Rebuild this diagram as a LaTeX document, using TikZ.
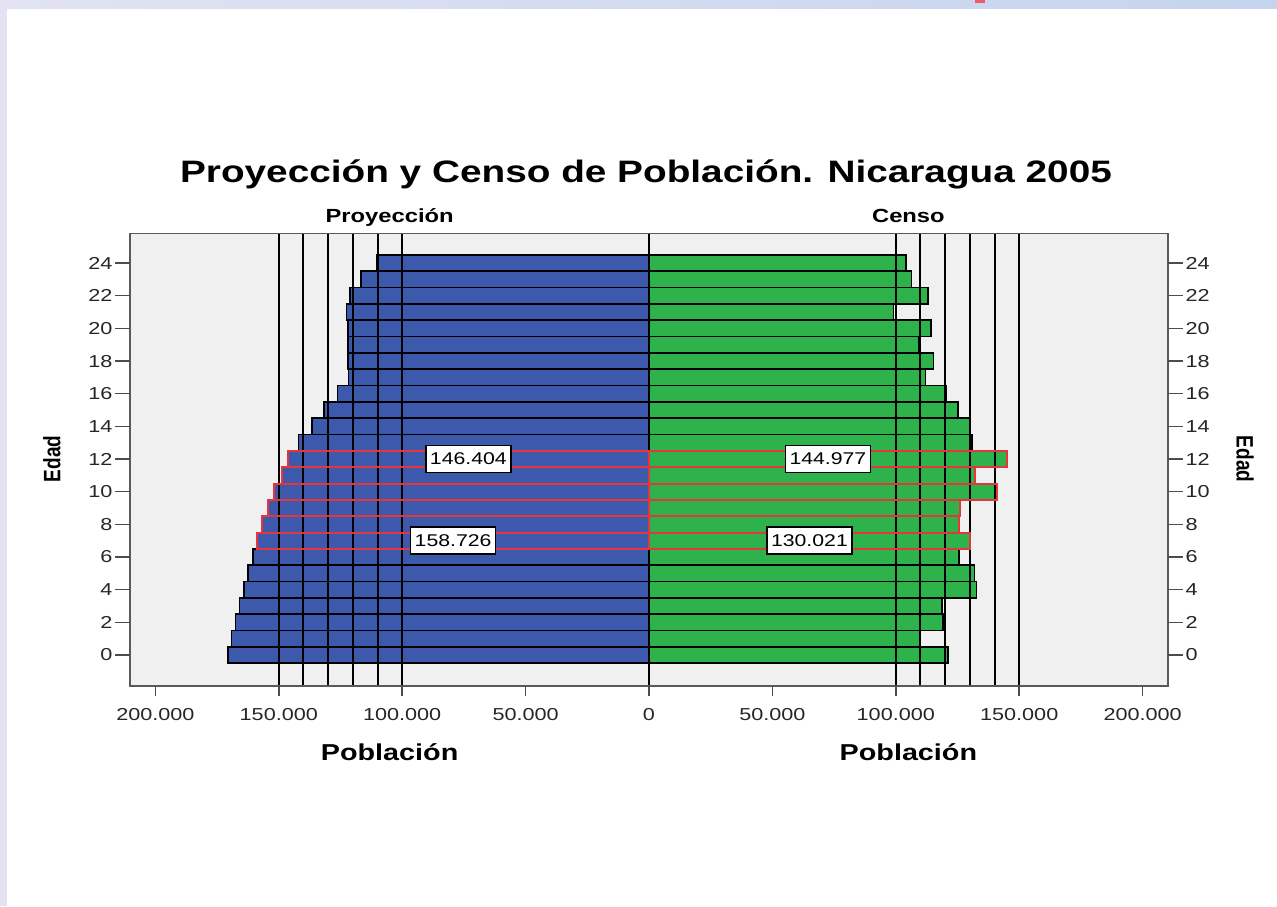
\documentclass[tikz,border=0pt]{standalone}
\usepackage{graphicx}
\usepackage{fontspec}
\setmainfont[FakeStretch=1.25]{Liberation Sans}
\newfontfamily\edadfont[FakeStretch=0.8]{Liberation Sans}
\usepackage{tikz}
\definecolor{proyblue}{HTML}{3D59AB}
\definecolor{censogreen}{HTML}{2EB24B}
\definecolor{marcared}{HTML}{E8353B}
\definecolor{fondo}{HTML}{F0F0F0}
\definecolor{lila}{HTML}{E2E2F2}
\definecolor{cielo}{HTML}{C4D4EE}
\tikzstyle{proy} =
        [
                fill = proyblue,
                draw = black,
                line width = 1.6pt
        ]
\tikzstyle{censo} =
        [
                fill = censogreen,
                draw = black,
                line width = 1.6pt
        ]
\tikzstyle{resalte} =
        [
                draw = marcared,
                line width = 2pt
        ]
\tikzstyle{guia} =
        [
                draw = black,
                line width = 2pt
        ]
\tikzstyle{marco} =
        [
                fill = fondo,
                draw = black!65,
                line width = 1.5pt
        ]
\tikzstyle{eje} =
        [
                draw = black!70,
                line width = 1.5pt
        ]
\tikzstyle{dato} =
        [
                rectangle,
                fill = white,
                draw = black,
                line width = 1.5pt,
                inner xsep = 4pt,
                minimum height = 27pt,
                font = \fontsize{17}{20}\selectfont
        ]
\tikzstyle{numero} =
        [
                text = black!85,
                inner sep = 2pt,
                font = \fontsize{17.3}{20}\selectfont
        ]
\tikzstyle{titulo} =
        [
                inner sep = 0pt,
                font = \fontsize{31}{36}\selectfont\bfseries
        ]
\tikzstyle{subtitulo} =
        [
                inner sep = 0pt,
                font = \fontsize{19}{22}\selectfont\bfseries
        ]
\tikzstyle{rotulo} =
        [
                inner sep = 0pt,
                font = \fontsize{23}{26}\selectfont\bfseries
        ]
\tikzstyle{edad} =
        [
                inner sep = 0pt,
                font = \edadfont\fontsize{23.75}{26}\selectfont\bfseries
        ]

\begin{document}
\begin{tikzpicture}[x=1pt, y=-1pt]
    \useasboundingbox (0,0) rectangle (1277,906);
    \fill [white] (0,0) rectangle (1277,906);
    \shade [left color = lila, right color = cielo] (0,0) rectangle (1277,8);
    \fill [lila] (0,8) rectangle (7,906);
    \fill [marcared!80] (975,0) rectangle (985,3);

    \begin{scope}[xshift = 649pt, yshift = -655pt, x = 2.468pt, y = 16.33pt]
        \coordinate (so) at (-210.2,-1.9);
        \coordinate (ne) at (210.2,25.8);
        \path [marco] (so) rectangle (ne);

        \foreach \edad/\proy/\censo in {0/170.6/121.1, 1/169.2/110.0, 2/167.5/119.1, 3/166.0/118.6,
            4/164.1/132.7, 5/162.4/131.9, 6/160.5/125.6, 7/158.726/130.021, 8/156.9/125.6,
            9/154.4/125.9, 10/151.9/140.8, 11/148.7/131.9, 12/146.404/144.977, 13/142.1/130.9,
            14/136.6/130.2, 15/131.6/125.2, 16/126.2/120.3, 17/121.8/112.1, 18/121.9/115.3,
            19/121.9/109.5, 20/121.9/114.3, 21/122.6/99.1, 22/121.2/113.1, 23/116.8/106.3,
            24/110.3/104.1}
        {
            \path [proy] (-\proy,\edad-0.5) rectangle (0,\edad+0.5);
            \path [censo] (0,\edad-0.5) rectangle (\censo,\edad+0.5);
        }

        \foreach \v in {100,110,...,150}
        {
            \path [guia] (-\v,-1.9) -- (-\v,25.8);
            \path [guia] (\v,-1.9) -- (\v,25.8);
        }
        \path [guia] (0,-1.9) -- (0,25.8);

        \foreach \edad/\proy/\censo in {7/158.726/130.021, 8/156.9/125.6, 9/154.4/125.9,
            10/151.9/140.8, 11/148.7/131.9, 12/146.404/144.977}
        {
            \path [resalte] (-\proy,\edad-0.5) rectangle (0,\edad+0.5);
            \path [resalte] (0,\edad-0.5) rectangle (\censo,\edad+0.5);
        }
        \path [marco, fill = none] (so) rectangle (ne);

        \node [dato] (proy12) at (-73.202,12) {146.404};
        \node [dato] (proy7) at (-79.363,7) {158.726};
        \node [dato] (censo12) at (72.489,12) {144.977};
        \node [dato] (censo7) at (65.011,7) {130.021};

        \foreach \e in {0,2,...,24}
        {
            \path [eje] (-210.2,\e) -- ++(-15pt,0) node [numero, anchor = east] (izq\e) {\e};
            \path [eje] (210.2,\e) -- ++(15pt,0) node [numero, anchor = west] (der\e) {\e};
        }
        \foreach \v/\t in {-200/200.000, -150/150.000, -100/100.000, -50/50.000, 0/0,
            50/50.000, 100/100.000, 150/150.000, 200/200.000}
            \path [eje] (\v,-1.9) -- ++(0,-10pt) node [numero, anchor = base, yshift = -24pt, inner sep = 0pt] (x\v) {\t};

        \node [titulo, anchor = base, yshift = 51pt, xshift = -3pt] (titulo) at (0,25.8) {Proyección y Censo de Población. Nicaragua 2005};
        \node [subtitulo, anchor = base, yshift = 11pt] (proyeccion) at (-105.1,25.8) {Proyección};
        \node [subtitulo, anchor = base, yshift = 11pt] (censo) at (105.1,25.8) {Censo};
        \node [rotulo, anchor = base, yshift = -74pt] (poblizq) at (-105.1,-1.9) {Población};
        \node [rotulo, anchor = base, yshift = -74pt] (pobldes) at (105.1,-1.9) {Población};
        \node [edad, rotate = 90] (edadizq) at (-241.9,12) {Edad};
        \node [edad, rotate = -90] (edadder) at (241.5,12) {Edad};
    \end{scope}
\end{tikzpicture}
\end{document}
